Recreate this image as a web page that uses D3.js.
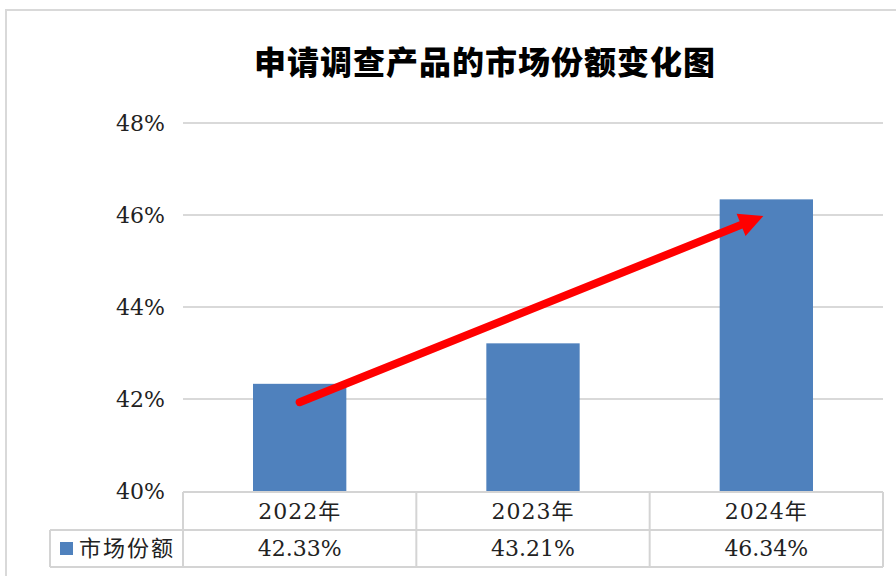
<!DOCTYPE html>
<html><head><meta charset="utf-8">
<script src="https://cdn.jsdelivr.net/npm/d3@7/dist/d3.min.js"></script>
<style>html,body{margin:0;padding:0;background:#fff;}svg{display:block;}</style>
</head><body>
<svg id="c" width="896" height="576"></svg>
<script>
const title = "申请调查产品的市场份额变化图";
const categories = ["2022年", "2023年", "2024年"];
const values = [42.33, 43.21, 46.34];
const valueLabels = ["42.33%", "43.21%", "46.34%"];
const seriesName = "市场份额";
const yTicks = [40, 42, 44, 46, 48];
const arrowFrom = {cat: "2022年", value: 41.93};
const arrowTo = {cat: "2024年", value: 45.98};

(function () {
const svg = d3.select("#c");
const pL = 183, pR = 883, pT = 123, pB = 491;
const rowH = 38;
const serif = "'DejaVu Serif', 'Noto Sans CJK SC', serif";
const blue = "#4f81bd";

// frame
svg.append("rect").attr("x", 6).attr("y", 10).attr("width", 900).attr("height", 580)
  .attr("fill", "#fff").attr("stroke", "#d9d9d9").attr("stroke-width", 2);

const x = d3.scaleBand().domain(categories).range([pL, pR]).paddingInner(0.6).paddingOuter(0.3);
const xCol = d3.scaleBand().domain(categories).range([pL, pR]).padding(0);
const y = d3.scaleLinear().domain([40, 48]).range([pB, pT]);

// title
svg.append("text").attr("x", 485).attr("y", 74).attr("text-anchor", "middle")
  .attr("font-family", "'Noto Sans CJK SC', sans-serif").attr("font-weight", 900)
  .attr("font-size", 32).attr("letter-spacing", 1).attr("fill", "#000").text(title);

// gridlines
svg.append("g").selectAll("line").data(yTicks.filter(d => d > 40)).join("line")
  .attr("x1", pL).attr("x2", pR).attr("y1", d => y(d)).attr("y2", d => y(d))
  .attr("stroke", "#d9d9d9").attr("stroke-width", 2);

// y labels
svg.append("g").selectAll("text").data(yTicks).join("text")
  .attr("x", 165).attr("y", d => y(d)).attr("dy", "0.36em").attr("text-anchor", "end")
  .attr("font-family", serif).attr("font-size", 22).attr("fill", "#222")
  .text(d => d + "%");

// bars
svg.append("g").selectAll("rect").data(values).join("rect")
  .attr("x", (d, i) => x(categories[i])).attr("width", x.bandwidth())
  .attr("y", d => y(d)).attr("height", d => y(40) - y(d)).attr("fill", blue);

// data table
const tb = svg.append("g");
const gridC = "#d4d4d4";
const t0 = pB + 1, t1 = t0 + rowH, t2 = t1 + rowH - 1;
tb.append("line").attr("x1", pL).attr("x2", pR).attr("y1", t0).attr("y2", t0).attr("stroke", gridC).attr("stroke-width", 2);
tb.append("line").attr("x1", 50).attr("x2", pR).attr("y1", t1).attr("y2", t1).attr("stroke", gridC).attr("stroke-width", 2);
tb.append("line").attr("x1", 50).attr("x2", pR).attr("y1", t2).attr("y2", t2).attr("stroke", gridC).attr("stroke-width", 2);
tb.append("line").attr("x1", 50).attr("x2", 50).attr("y1", t1).attr("y2", t2).attr("stroke", gridC).attr("stroke-width", 2);
const colEdges = categories.map(c => xCol(c)).concat([pR]);
tb.selectAll("line.v").data(colEdges).join("line").attr("class", "v")
  .attr("x1", d => d).attr("x2", d => d).attr("y1", t0).attr("y2", t2)
  .attr("stroke", gridC).attr("stroke-width", 2);
tb.selectAll("text.cat").data(categories).join("text").attr("class", "cat")
  .attr("x", d => xCol(d) + xCol.bandwidth() / 2).attr("y", (t0 + t1) / 2).attr("dy", "0.36em")
  .attr("text-anchor", "middle").attr("font-family", serif).attr("font-size", 22)
  .attr("letter-spacing", 1).attr("fill", "#222").text(d => d);
tb.selectAll("text.val").data(valueLabels).join("text").attr("class", "val")
  .attr("x", (d, i) => xCol(categories[i]) + xCol.bandwidth() / 2).attr("y", (t1 + t2) / 2).attr("dy", "0.36em")
  .attr("text-anchor", "middle").attr("font-family", serif).attr("font-size", 22)
  .attr("fill", "#222").text(d => d);
tb.append("rect").attr("x", 60).attr("y", (t1 + t2) / 2 - 6.5).attr("width", 13).attr("height", 13).attr("fill", blue);
tb.append("text").attr("x", 79).attr("y", (t1 + t2) / 2).attr("dy", "0.36em")
  .attr("font-family", "'Noto Sans CJK SC', sans-serif").attr("font-size", 22).attr("letter-spacing", 2)
  .attr("fill", "#222").text(seriesName);

// arrow
const ax1 = x(arrowFrom.cat) + x.bandwidth() / 2, ay1 = y(arrowFrom.value);
const ax2 = x(arrowTo.cat) + x.bandwidth() / 2 - 3, ay2 = y(arrowTo.value);
const ang = Math.atan2(ay2 - ay1, ax2 - ax1);
const headL = 24, headW = 12;
const bx = ax2 - headL * Math.cos(ang), by = ay2 - headL * Math.sin(ang);
svg.append("line").attr("x1", ax1).attr("y1", ay1).attr("x2", bx + 2 * Math.cos(ang)).attr("y2", by + 2 * Math.sin(ang))
  .attr("stroke", "#ff0000").attr("stroke-width", 8).attr("stroke-linecap", "round");
const px = -Math.sin(ang), py = Math.cos(ang);
svg.append("path").attr("d", d3.line()([
  [ax2, ay2], [bx + px * headW, by + py * headW], [bx - px * headW, by - py * headW]
]) + "Z").attr("fill", "#ff0000");
})();
</script>
</body></html>
